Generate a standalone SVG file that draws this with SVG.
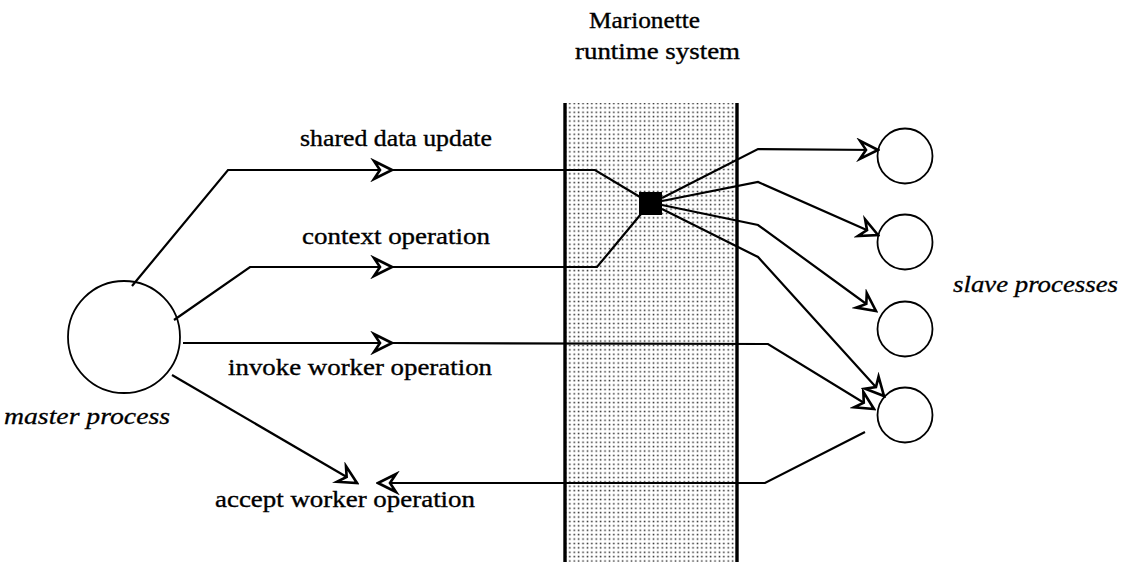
<svg xmlns="http://www.w3.org/2000/svg" width="1123" height="562" viewBox="0 0 1123 562">
<style>
.t{font-family:"Liberation Serif","Times New Roman",serif;font-size:23px;fill:#000;stroke:#000;stroke-width:0.35}
.i{font-family:"Liberation Serif","Times New Roman",serif;font-size:24px;font-style:italic;fill:#000;stroke:#000;stroke-width:0.3}
.c{fill:#fff;stroke:#000;stroke-width:1.8}
.l{fill:none;stroke:#000;stroke-width:2.2}
.a{fill:none;stroke:#000;stroke-width:2.2;marker-end:url(#arr)}
.b{fill:none;stroke:#000;stroke-width:3.4}
</style>
<defs>
<pattern id="dots" width="4.4" height="4.4" patternUnits="userSpaceOnUse">
<rect x="1.5" y="1.5" width="1.5" height="1.5" fill="#222"/>
</pattern>
<marker id="arr" markerUnits="userSpaceOnUse" markerWidth="24" markerHeight="24" viewBox="-18 -10 20 20" refX="0" refY="0" orient="auto">
<path d="M0,0 L-15,-7.5 L-10,0 L-15,7.5 Z" fill="#fff" stroke="#000" stroke-width="2.2" stroke-linejoin="miter"/>
</marker>
</defs>
<rect width="1123" height="562" fill="#fff"/>

<g id="runtime">
<rect x="565" y="103" width="172" height="459" fill="url(#dots)"/>
<line class="b" x1="565" y1="103" x2="565" y2="562"/>
<line class="b" x1="737" y1="103" x2="737" y2="562"/>
<text class="t" x="589" y="28" textLength="111" lengthAdjust="spacingAndGlyphs">Marionette</text>
<text class="t" x="575" y="59" textLength="165" lengthAdjust="spacingAndGlyphs">runtime system</text>
</g>

<g id="master">
<circle class="c" cx="124" cy="337" r="56"/>
<text class="i" x="4" y="424" textLength="166" lengthAdjust="spacingAndGlyphs">master process</text>
</g>

<g id="slaves">
<circle class="c" cx="905" cy="156" r="27.5"/>
<circle class="c" cx="905" cy="242" r="27.5"/>
<circle class="c" cx="905" cy="329" r="27.5"/>
<circle class="c" cx="905" cy="415" r="27.5"/>
<text class="i" x="953" y="292" textLength="165" lengthAdjust="spacingAndGlyphs">slave processes</text>
</g>

<g id="multicast">
<rect x="639" y="192" width="23" height="23" fill="#000"/>
</g>

<g id="connectors">
<path class="a" d="M132,286 L228,170 L392,170"/>
<path class="l" d="M392,170 L595,170 L640,197"/>
<path class="a" d="M174,320 L250,267 L392,267"/>
<path class="l" d="M392,267 L597,267 L641,214"/>
<path class="a" d="M183,343 L392,343"/>
<path class="a" d="M392,343 L768,344 L874,409"/>
<path class="a" d="M662,198 L758,149 L878,150"/>
<path class="a" d="M662,201 L758,182 L878,235"/>
<path class="a" d="M662,205 L758,225 L876,311"/>
<path class="a" d="M662,209 L758,257 L884,396"/>
<path class="a" d="M172,375 L357,483"/>
<path class="a" d="M865,432 L765,483 L378,483"/>
</g>

<g id="labels">
<text class="t" x="300" y="146" textLength="192" lengthAdjust="spacingAndGlyphs">shared data update</text>
<text class="t" x="302" y="244" textLength="188" lengthAdjust="spacingAndGlyphs">context operation</text>
<text class="t" x="228" y="375" textLength="264" lengthAdjust="spacingAndGlyphs">invoke worker operation</text>
<text class="t" x="215" y="507" textLength="260" lengthAdjust="spacingAndGlyphs">accept worker operation</text>
</g>
</svg>
